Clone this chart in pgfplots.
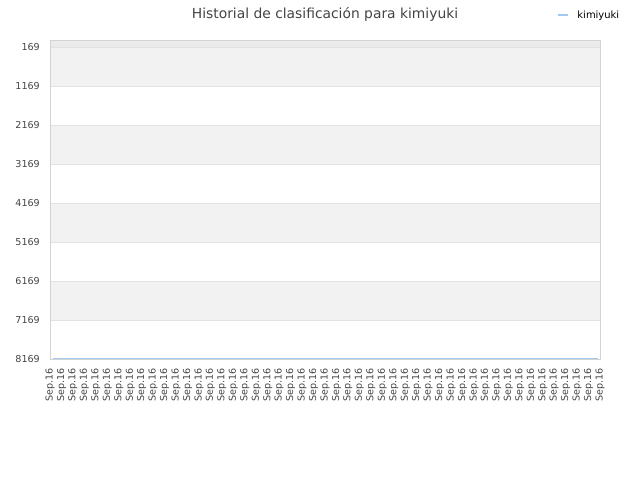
\documentclass[border=0pt]{standalone}
\usepackage{pgfplots}
\pgfplotsset{compat=1.18}
\usepackage{fontspec}
\setmainfont{DejaVu Sans}
\definecolor{bandgray}{HTML}{F2F2F2}
\definecolor{topgray}{HTML}{EBEBEB}
\definecolor{gridgray}{HTML}{E2E2E2}
\definecolor{bordergray}{HTML}{D3D3D3}
\definecolor{linecol}{HTML}{A3C8EF}
\definecolor{txt}{HTML}{444444}
\begin{document}
\begin{tikzpicture}
\begin{axis}[
  set layers,
  at={(50bp,121bp)}, anchor=south west,
  width=550bp, height=319bp, scale only axis,
  y dir=reverse,
  xmin=0, xmax=48, ymin=-10, ymax=8169,
  xtick={0,...,48}, xticklabel={Sep.16},
  ytick={169,1169,2169,3169,4169,5169,6169,7169,8169},
  yticklabels={169,1169,2169,3169,4169,5169,6169,7169,8169},
  major tick length=0pt,
  ymajorgrids, grid style={gridgray, line width=0.8bp},
  axis line style={bordergray, line width=0.8bp},
  tick label style={txt, font=\fontsize{9.6}{11}\selectfont},
  xticklabel style={rotate=90, anchor=east, inner sep=0pt},
  xticklabel shift=9bp,
  yticklabel style={anchor=east, inner sep=0pt},
  yticklabel shift=10bp,
  title={Historial de clasificación para kimiyuki},
  title style={at={(0.5,1)}, anchor=base, yshift=16bp, txt, font=\fontsize{13.9}{16}\selectfont},
  legend style={at={(0.9218,1.0784)}, anchor=west, draw=none, fill=none, inner sep=0pt,
    font=\fontsize{10}{12}\selectfont, text=black,
    /tikz/every odd column/.append style={column sep=7bp}},
  legend image code/.code={\draw[#1] (0bp,0bp) -- (10bp,0bp);},
]
\addplot[forget plot, draw=none, fill=topgray, on layer=axis background] coordinates {(0,-10) (48,-10) (48,169) (0,169)} -- cycle;
\addplot[forget plot, draw=none, fill=bandgray, on layer=axis background] coordinates {(0,169) (48,169) (48,1169) (0,1169)} -- cycle;
\addplot[forget plot, draw=none, fill=bandgray, on layer=axis background] coordinates {(0,2169) (48,2169) (48,3169) (0,3169)} -- cycle;
\addplot[forget plot, draw=none, fill=bandgray, on layer=axis background] coordinates {(0,4169) (48,4169) (48,5169) (0,5169)} -- cycle;
\addplot[forget plot, draw=none, fill=bandgray, on layer=axis background] coordinates {(0,6169) (48,6169) (48,7169) (0,7169)} -- cycle;
\addplot[linecol, line width=1.3bp, mark=none] coordinates {
(0.25,8169) (1,8169) (2,8169) (3,8169) (4,8169) (5,8169) (6,8169) (7,8169) (8,8169) (9,8169)
(10,8169) (11,8169) (12,8169) (13,8169) (14,8169) (15,8169) (16,8169) (17,8169) (18,8169) (19,8169)
(20,8169) (21,8169) (22,8169) (23,8169) (24,8169) (25,8169) (26,8169) (27,8169) (28,8169) (29,8169)
(30,8169) (31,8169) (32,8169) (33,8169) (34,8169) (35,8169) (36,8169) (37,8169) (38,8169) (39,8169)
(40,8169) (41,8169) (42,8169) (43,8169) (44,8169) (45,8169) (46,8169) (47,8169) (47.8,8169)
};
\addlegendentry{kimiyuki}
\end{axis}
\pgfresetboundingbox
\path (0bp,0bp) rectangle (640bp,480bp);
\end{tikzpicture}
\end{document}
